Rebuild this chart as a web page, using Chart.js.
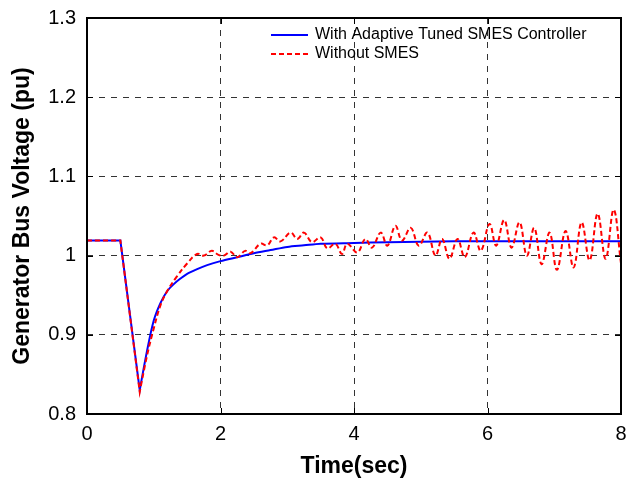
<!DOCTYPE html>
<html>
<head>
<meta charset="utf-8">
<script src="https://cdn.jsdelivr.net/npm/chart.js@4"></script>
<style>
  html, body { margin: 0; padding: 0; background: #fff; }
  #wrap { width: 627px; height: 480px; }
</style>
</head>
<body>
<div id="wrap"><canvas id="chart" width="627" height="480"></canvas></div>
<script>
// valores
const timeBlue = [0, 0.5, 0.79, 0.9, 1.0, 1.1, 1.2, 1.3, 1.4, 1.5, 1.65, 1.8, 2.0, 2.25, 2.5, 2.75, 3.0, 3.25, 3.5, 4.0, 4.5, 5.0, 5.5, 8.0];
const voltBlue = [1.019, 1.019, 0.830, 0.880, 0.918, 0.940, 0.955, 0.964, 0.971, 0.977, 0.983, 0.988, 0.993, 0.998, 1.003, 1.007, 1.011, 1.013, 1.015, 1.016, 1.017, 1.0175, 1.018, 1.018];

const timeRed = [0, 0.5, 0.79, 0.9, 1.0, 1.1, 1.2, 1.35, 1.5, 1.65, 1.75, 1.87, 1.97, 2.05, 2.15, 2.25, 2.37, 2.45, 2.6, 2.7, 2.8, 2.9,
  3.05, 3.15, 3.25, 3.37, 3.5, 3.6, 3.72, 3.82, 3.9, 4.05, 4.17, 4.27, 4.4, 4.5, 4.62, 4.72, 4.85, 4.97,
  5.1, 5.22, 5.32, 5.43, 5.55, 5.66, 5.79, 5.9, 6.03, 6.13, 6.25, 6.36, 6.48, 6.59, 6.7, 6.81, 6.93,
  7.04, 7.17, 7.29, 7.41, 7.53, 7.65, 7.77, 7.89, 8.0];
const voltRed = [1.019, 1.019, 0.828, 0.874, 0.908, 0.937, 0.955, 0.974, 0.99, 1.002, 1.0, 1.006, 1.001, 1.0, 1.005, 0.998, 1.006, 1.003, 1.015, 1.013, 1.023, 1.018,
  1.029, 1.021, 1.029, 1.017, 1.023, 1.009, 1.015, 1.002, 1.015, 1.004, 1.021, 1.010, 1.029, 1.0125, 1.0375, 1.019, 1.035, 1.0125,
  1.029, 1.0, 1.021, 0.996, 1.021, 0.998, 1.029, 1.006, 1.040, 1.0125, 1.045, 1.010, 1.042, 1.0, 1.035, 0.989, 1.029,
  0.982, 1.031, 0.985, 1.042, 0.994, 1.053, 0.996, 1.058, 0.99];

// instantes con esquina viva (falla y minimo)
const cornerTimes = [0, 0.5, 0.79];

const seriesLabels = ['With Adaptive Tuned SMES Controller', 'Without SMES'];
const xTicks = [0, 2, 4, 6, 8];
const yTicks = [0.8, 0.9, 1.0, 1.1, 1.2, 1.3];

function toPoints(xs, ys) {
  return xs.map((x, i) => ({ x: x, y: ys[i] }));
}

const FONT = "'Liberation Sans', Arial, sans-serif";

// quita la curvatura en las esquinas del hueco
const cornerPlugin = {
  id: 'corners',
  beforeDatasetDraw(chart, args) {
    const meta = args.meta;
    if (!meta.dataset) return;
    meta.dataset.updateControlPoints(chart.chartArea, meta.indexAxis);
    const raw = chart.data.datasets[args.index].data;
    meta.data.forEach((pt, i) => {
      if (cornerTimes.includes(raw[i].x)) {
        pt.cp1x = pt.x; pt.cp1y = pt.y;
        pt.cp2x = pt.x; pt.cp2y = pt.y;
      }
    });
  }
};

// marco, marcas hacia dentro y leyenda
const framePlugin = {
  id: 'frame',
  afterDraw(chart) {
    const ctx = chart.ctx;
    const a = chart.chartArea;
    const xs = chart.scales.x, ys = chart.scales.y;
    ctx.save();
    ctx.strokeStyle = '#000';
    ctx.lineWidth = 1;
    ctx.setLineDash([]);
    ctx.beginPath();
    xTicks.forEach(v => {
      const px = Math.round(xs.getPixelForValue(v)) + 0.5;
      ctx.moveTo(px, a.bottom); ctx.lineTo(px, a.bottom - 6);
      ctx.moveTo(px, a.top); ctx.lineTo(px, a.top + 6);
    });
    yTicks.forEach(v => {
      const py = Math.round(ys.getPixelForValue(v)) + 0.5;
      ctx.moveTo(a.left, py); ctx.lineTo(a.left + 6, py);
      ctx.moveTo(a.right, py); ctx.lineTo(a.right - 6, py);
    });
    ctx.stroke();
    ctx.lineWidth = 2;
    ctx.strokeRect(a.left, a.top, a.right - a.left, a.bottom - a.top);

    // leyenda
    ctx.font = '16px ' + FONT;
    ctx.textBaseline = 'middle';
    ctx.fillStyle = '#000';
    const rows = [
      { y: 35, color: '#0000ff', dash: [] },
      { y: 54, color: '#ff0000', dash: [5, 3] }
    ];
    rows.forEach((r, i) => {
      ctx.strokeStyle = r.color;
      ctx.lineWidth = 2;
      ctx.setLineDash(r.dash);
      ctx.beginPath();
      ctx.moveTo(271, r.y); ctx.lineTo(308, r.y);
      ctx.stroke();
      ctx.setLineDash([]);
      ctx.fillText(seriesLabels[i], 315, r.y);
    });
    ctx.restore();
  }
};

new Chart(document.getElementById('chart'), {
  type: 'line',
  data: {
    datasets: [
      {
        label: seriesLabels[0],
        data: toPoints(timeBlue, voltBlue),
        borderColor: '#0000ff',
        borderWidth: 2,
        pointRadius: 0,
        tension: 0.3,
        fill: false,
        order: 2
      },
      {
        label: seriesLabels[1],
        data: toPoints(timeRed, voltRed),
        borderColor: '#ff0000',
        borderWidth: 2,
        borderDash: [5, 3],
        pointRadius: 0,
        tension: 0.4,
        fill: false,
        order: 1
      }
    ]
  },
  options: {
    responsive: false,
    animation: false,
    events: [],
    layout: { padding: { left: 0, right: 0, top: 18, bottom: 0 } },
    plugins: {
      legend: { display: false },
      tooltip: { enabled: false }
    },
    scales: {
      x: {
        type: 'linear',
        min: 0, max: 8,
        afterBuildTicks(scale) { scale.ticks = xTicks.map(v => ({ value: v })); },
        afterFit(scale) {
          scale.height = 66;
          scale.paddingLeft = 0;
          scale.paddingRight = 6;
        },
        ticks: {
          color: '#000',
          font: { family: FONT, size: 20 },
          padding: 8,
          maxRotation: 0
        },
        grid: { color: '#333', lineWidth: 1, drawTicks: false },
        border: { display: false, dash: [6, 6] },
        title: {
          display: true,
          text: 'Time(sec)',
          color: '#000',
          font: { family: FONT, size: 23, weight: 'bold' },
          padding: { top: 2, bottom: 0 }
        }
      },
      y: {
        type: 'linear',
        min: 0.8, max: 1.3,
        afterBuildTicks(scale) { scale.ticks = yTicks.map(v => ({ value: v })); },
        afterFit(scale) {
          scale.width = 87;
          scale.paddingTop = 0;
          scale.paddingBottom = 0;
        },
        ticks: {
          color: '#000',
          font: { family: FONT, size: 20 },
          padding: 11,
          callback: v => (v === 1 ? '1' : v.toFixed(1))
        },
        grid: { color: '#333', lineWidth: 1, drawTicks: false },
        border: { display: false, dash: [6, 6] },
        title: {
          display: true,
          text: 'Generator Bus Voltage (pu)',
          color: '#000',
          font: { family: FONT, size: 23, weight: 'bold' },
          padding: { top: 9, bottom: 0 }
        }
      }
    }
  },
  plugins: [cornerPlugin, framePlugin]
});
</script>
</body>
</html>
